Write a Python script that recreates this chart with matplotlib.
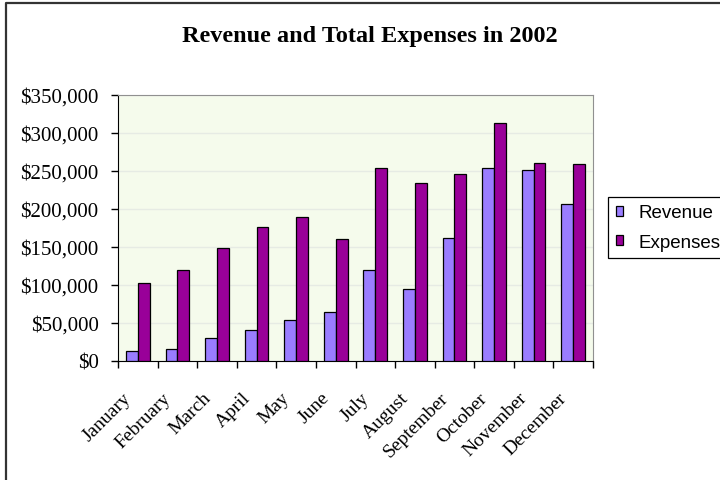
import matplotlib
matplotlib.use("Agg")
import matplotlib.pyplot as plt
import numpy as np
from matplotlib.ticker import FuncFormatter, MultipleLocator
from matplotlib.lines import Line2D

months = ["January", "February", "March", "April", "May", "June", "July",
          "August", "September", "October", "November", "December"]
revenue = [12800, 16200, 30700, 41200, 54000, 64000, 119300, 95200,
           162300, 254400, 250900, 206200]
expenses = [102200, 119700, 148200, 176700, 189500, 160500, 254000, 234700,
            246500, 313200, 261000, 259200]

serif = "Liberation Serif"
sans = "Liberation Sans"

W, H = 720, 481
fig = plt.figure(figsize=(W / 100, H / 100), dpi=100)

# chart-area frame (left and top edges)
fig.add_artist(Line2D([6.5 / W, 6.5 / W, 1.0], [0.0, 1 - 3.5 / H, 1 - 3.5 / H],
                      transform=fig.transFigure, color="#333333", linewidth=1.6))

ax = fig.add_axes([118 / W, 1 - 362 / H, (593 - 118) / W, (362 - 96) / H])
ax.set_facecolor("#F5FBEC")

x = np.arange(len(months))
w = 0.3
ax.bar(x - w / 2, revenue, w, color="#9A7DFF", edgecolor="black", linewidth=0.9,
       label="Revenue", zorder=3)
ax.bar(x + w / 2, expenses, w, color="#990099", edgecolor="black", linewidth=0.9,
       label="Expenses", zorder=3)

ax.set_xlim(-0.5, len(months) - 0.5)
ax.set_ylim(0, 350000)
ax.yaxis.set_major_locator(MultipleLocator(50000))
ax.yaxis.set_major_formatter(FuncFormatter(lambda v, p: f"${v:,.0f}"))
ax.grid(axis="y", color="#E6EBE4", linewidth=1.0, zorder=0)

# category boundaries carry the tick marks; month names sit under each group
ax.set_xticks(np.arange(-0.5, len(months), 1.0))
ax.set_xticklabels([])
ax.tick_params(axis="x", direction="out", length=5, width=1, color="black")
for i, name in enumerate(months):
    ax.annotate(name, xy=(i, 0), xycoords=("data", "axes fraction"),
                xytext=(-6.5, -24.5), textcoords="offset points",
                rotation=45, ha="right", va="center", rotation_mode="anchor",
                fontfamily=serif, fontsize=14)

ax.tick_params(axis="y", direction="out", length=5, width=1, labelsize=15, pad=9)
for lbl in ax.get_yticklabels():
    lbl.set_fontfamily(serif)

ax.spines["left"].set_color("black")
ax.spines["bottom"].set_color("black")
ax.spines["top"].set_color("#909090")
ax.spines["right"].set_color("#909090")

fig.text(370 / W, 1 - 37 / H, "Revenue and Total Expenses in 2002", ha="center",
         va="center", fontfamily=serif, fontweight="bold", fontsize=17.5)

leg = fig.legend(loc="upper left", bbox_to_anchor=(608 / W, 1 - 198 / H), frameon=True,
                 fancybox=False, edgecolor="black", framealpha=1,
                 prop={"family": sans, "size": 13.5}, handlelength=0.4,
                 handleheight=0.4, handletextpad=0.8, borderpad=0.4,
                 labelspacing=0.65, borderaxespad=0)
leg.get_frame().set_linewidth(0.9)

fig.savefig("out.png", dpi=100)
